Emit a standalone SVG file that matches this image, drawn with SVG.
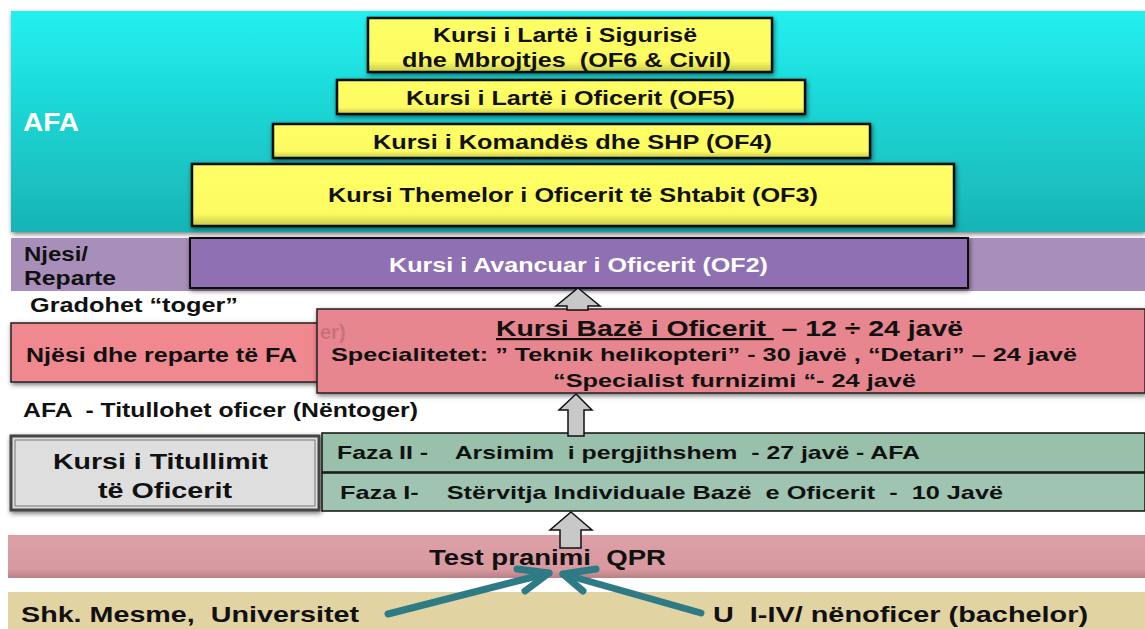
<svg xmlns="http://www.w3.org/2000/svg" width="1145" height="629" viewBox="0 0 1145 629">
<defs>
<linearGradient id="cyan" x1="0" y1="0" x2="0" y2="1">
<stop offset="0" stop-color="#22f0f0"/>
<stop offset="1" stop-color="#18b4b4"/>
</linearGradient>
<linearGradient id="yel" x1="0" y1="0" x2="0" y2="1">
<stop offset="0" stop-color="#ffff66"/>
<stop offset="0.8" stop-color="#fcfc62"/>
<stop offset="1" stop-color="#c8c84a"/>
</linearGradient>
<linearGradient id="pinkband" x1="0" y1="0" x2="0" y2="1">
<stop offset="0" stop-color="#dba0a6"/>
<stop offset="0.8" stop-color="#d8999f"/>
<stop offset="1" stop-color="#b88086"/>
</linearGradient>
<filter id="sh" x="-5%" y="-20%" width="110%" height="150%">
<feGaussianBlur in="SourceAlpha" stdDeviation="2.5"/>
<feOffset dx="1" dy="2" result="b"/>
<feComponentTransfer><feFuncA type="linear" slope="0.55"/></feComponentTransfer>
<feMerge><feMergeNode/><feMergeNode in="SourceGraphic"/></feMerge>
</filter>
</defs>
<style>
text{font-family:"Liberation Sans",Arial,sans-serif;font-weight:bold;fill:#111}
.c{text-anchor:middle}
.yb{fill:url(#yel);stroke:#111;stroke-width:2.5}
.uparrow{fill:#c8c8c8;stroke:#111;stroke-width:1.5}
.teal{stroke:#2e7b85;stroke-width:7;fill:none;stroke-linecap:round;stroke-linejoin:round}
</style>
<rect width="1145" height="629" fill="#ffffff"/>
<g id="afa-band">
<rect x="11" y="11" width="1134" height="221" fill="url(#cyan)" filter="url(#sh)"/>
<text x="23" y="131" font-size="25" textLength="56" lengthAdjust="spacingAndGlyphs" style="fill:#ffffff">AFA</text>
</g>
<g id="of6">
<rect class="yb" x="368" y="18" width="404" height="54" filter="url(#sh)"/>
<text x="433" y="42" font-size="21" textLength="264" lengthAdjust="spacingAndGlyphs">Kursi i Lartë i Sigurisë</text>
<text x="402" y="67" font-size="21" textLength="329" lengthAdjust="spacingAndGlyphs" xml:space="preserve">dhe Mbrojtjes  (OF6 &amp; Civil)</text>
</g>
<g id="of5">
<rect class="yb" x="337" y="80" width="468" height="34" filter="url(#sh)"/>
<text x="406" y="105" font-size="21" textLength="329" lengthAdjust="spacingAndGlyphs">Kursi i Lartë i Oficerit (OF5)</text>
</g>
<g id="of4">
<rect class="yb" x="273" y="124" width="597" height="34" filter="url(#sh)"/>
<text x="373" y="149" font-size="21" textLength="399" lengthAdjust="spacingAndGlyphs">Kursi i Komandës dhe SHP (OF4)</text>
</g>
<g id="of3">
<rect class="yb" x="192" y="164" width="762" height="62" filter="url(#sh)"/>
<text x="328" y="202" font-size="21" textLength="490" lengthAdjust="spacingAndGlyphs">Kursi Themelor i Oficerit të Shtabit (OF3)</text>
</g>
<g id="njesi-band">
<rect x="11" y="238" width="1134" height="53" fill="#a78fba"/>
<text x="24" y="261" font-size="20" textLength="64" lengthAdjust="spacingAndGlyphs">Njesi/</text>
<text x="24" y="285" font-size="20" textLength="92" lengthAdjust="spacingAndGlyphs">Reparte</text>
</g>
<g id="of2">
<rect x="190" y="238" width="778" height="50" fill="#8f70b3" stroke="#111" stroke-width="2" filter="url(#sh)"/>
<text x="389" y="272" font-size="20" textLength="379" lengthAdjust="spacingAndGlyphs" style="fill:#ffffff">Kursi i Avancuar i Oficerit (OF2)</text>
</g>
<g id="gradohet">
<text x="30" y="312" font-size="20" textLength="208" lengthAdjust="spacingAndGlyphs">Gradohet “toger”</text>
</g>
<g id="njesi-fa">
<rect x="11" y="323" width="310" height="59" fill="#f0888f" stroke="#222" stroke-width="1.5" filter="url(#sh)"/>
<text x="26" y="362" font-size="20" textLength="271" lengthAdjust="spacingAndGlyphs">Njësi dhe reparte të FA</text>
</g>
<g id="kursi-baze">
<rect x="317" y="309" width="828" height="84" fill="#e8868f" stroke="#222" stroke-width="1.5" filter="url(#sh)"/>
<text x="320" y="339" font-size="20" style="fill:#c6737c">er)</text>
<text x="496" y="336" font-size="22" textLength="467" lengthAdjust="spacingAndGlyphs" xml:space="preserve"><tspan text-decoration="underline">Kursi Bazë i Oficerit </tspan> – 12 ÷ 24 javë</text>
<text x="331" y="361" font-size="19" textLength="746" lengthAdjust="spacingAndGlyphs">Specialitetet: ” Teknik helikopteri” - 30 javë , “Detari” – 24 javë</text>
<text x="553" y="387" font-size="19" textLength="363" lengthAdjust="spacingAndGlyphs">“Specialist furnizimi “- 24 javë</text>
</g>
<g id="titullohet">
<text x="23" y="417" font-size="20" textLength="395" lengthAdjust="spacingAndGlyphs" xml:space="preserve">AFA  - Titullohet oficer (Nëntoger)</text>
</g>
<g id="kursi-titullimit">
<rect x="11" y="436" width="308" height="74" fill="#dedede" stroke="#444" stroke-width="3" filter="url(#sh)"/>
<rect x="15" y="440" width="300" height="66" fill="none" stroke="#777" stroke-width="1"/>
<text x="53" y="469" font-size="22" textLength="215" lengthAdjust="spacingAndGlyphs">Kursi i Titullimit</text>
<text x="98" y="498" font-size="22" textLength="134" lengthAdjust="spacingAndGlyphs">të Oficerit</text>
</g>
<g id="faza2">
<rect x="322" y="433" width="823" height="39" fill="#98c0ab" stroke="#111" stroke-width="1.5"/>
<text x="337" y="459" font-size="19" textLength="583" lengthAdjust="spacingAndGlyphs" xml:space="preserve">Faza II -    Arsimim  i pergjithshem  - 27 javë - AFA</text>
</g>
<g id="faza1">
<rect x="322" y="473" width="823" height="38" fill="#9fc4b1" stroke="#111" stroke-width="1.5"/>
<text x="340" y="499" font-size="19" textLength="663" lengthAdjust="spacingAndGlyphs" xml:space="preserve">Faza I-    Stërvitja Individuale Bazë  e Oficerit  -  10 Javë</text>
</g>
<g id="test">
<rect x="8" y="535" width="1137" height="43" fill="url(#pinkband)"/>
<text x="429" y="565" font-size="22" textLength="237" lengthAdjust="spacingAndGlyphs" xml:space="preserve">Test pranimi  QPR</text>
</g>
<g id="shk">
<rect x="8" y="592" width="1137" height="37" fill="#e2d3a3"/>
<text x="21" y="622" font-size="22" textLength="338" lengthAdjust="spacingAndGlyphs" xml:space="preserve">Shk. Mesme,  Universitet</text>
<text x="713" y="622" font-size="22" textLength="375" lengthAdjust="spacingAndGlyphs" xml:space="preserve">U  I-IV/ nënoficer (bachelor)</text>
</g>
<g id="connectors">
<path class="uparrow" d="M578 288 L600 306 L588 306 L588 310 L567 310 L567 306 L556 306 Z"/>
<path class="uparrow" d="M576 394 L592 410 L584 410 L584 436 L568 436 L568 410 L559 410 Z"/>
<path class="uparrow" d="M571 512 L592 530 L581 530 L581 548 L560 548 L560 530 L550 530 Z"/>
<path class="teal" d="M388 614 L549 573"/>
<path class="teal" d="M517 569 L549 573 L525 591"/>
<path class="teal" d="M701 613 L563 574"/>
<path class="teal" d="M596 569 L563 574 L583 591"/>
</g>
</svg>
